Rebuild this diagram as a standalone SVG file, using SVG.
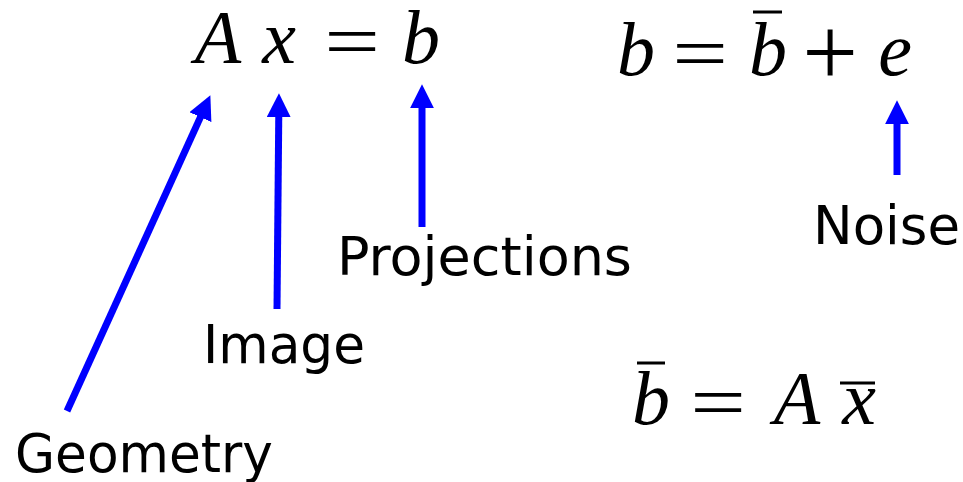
<svg xmlns="http://www.w3.org/2000/svg" width="963" height="482" viewBox="0 0 963 482">
<defs>
<style>
.m{font-family:"Liberation Serif","Times New Roman",serif;font-style:italic;font-size:76px;fill:#000;text-anchor:middle}
.r{font-family:"Liberation Serif","Times New Roman",serif;font-size:76px;fill:#000;text-anchor:middle}
.lbl{font-family:"DejaVu Sans",Verdana,sans-serif;font-size:53px;fill:#000}
.bar{stroke:#000;stroke-width:3}
.arr{stroke:#0000ff;stroke-width:7;fill:none;marker-end:url(#ah)}
</style>
<marker id="ah" markerUnits="userSpaceOnUse" markerWidth="24" markerHeight="24" viewBox="0 0 23 23" refX="5" refY="11.5" orient="auto">
<path d="M0,0 L23,11.5 L0,23 z" fill="#0000ff"/>
</marker>
</defs>
<rect width="963" height="482" fill="#fff"/>
<g id="eq1">
<text class="m" x="218" y="63">A</text>
<text class="m" x="279" y="63">x</text>
<text class="r" transform="translate(352,67) scale(1.3,1)" x="0" y="0">=</text>
<text class="m" x="421" y="63">b</text>
</g>
<g id="eq2">
<text class="m" x="636" y="75">b</text>
<text class="r" transform="translate(700,79) scale(1.3,1)" x="0" y="0">=</text>
<text class="m" x="768" y="75">b</text>
<line class="bar" x1="753" y1="12" x2="782" y2="12"/>
<text class="r" transform="translate(830,86) scale(1.3)" x="0" y="0">+</text>
<text class="m" x="895" y="75">e</text>
</g>
<g id="eq3">
<text class="m" x="651" y="424">b</text>
<line class="bar" x1="637" y1="363" x2="665" y2="363"/>
<text class="r" transform="translate(718,428) scale(1.3,1)" x="0" y="0">=</text>
<text class="m" x="797" y="424">A</text>
<text class="m" x="859" y="424">x</text>
<line class="bar" x1="840" y1="383" x2="875" y2="383"/>
</g>
<g id="geometry"><text class="lbl" x="15" y="472" textLength="258" lengthAdjust="spacingAndGlyphs">Geometry</text></g>
<g id="image"><text class="lbl" x="203" y="363" textLength="162" lengthAdjust="spacingAndGlyphs">Image</text></g>
<g id="projections"><text class="lbl" x="337" y="275" textLength="295" lengthAdjust="spacingAndGlyphs">Projections</text></g>
<g id="noise"><text class="lbl" x="813" y="244" textLength="147" lengthAdjust="spacingAndGlyphs">Noise</text></g>
<g id="connectors">
<line class="arr" x1="67" y1="411" x2="202.6" y2="112.4"/>
<line class="arr" x1="277" y1="309" x2="278.8" y2="112"/>
<line class="arr" x1="422" y1="227" x2="422" y2="103"/>
<line class="arr" x1="897" y1="175" x2="897" y2="119"/>
</g>
</svg>
